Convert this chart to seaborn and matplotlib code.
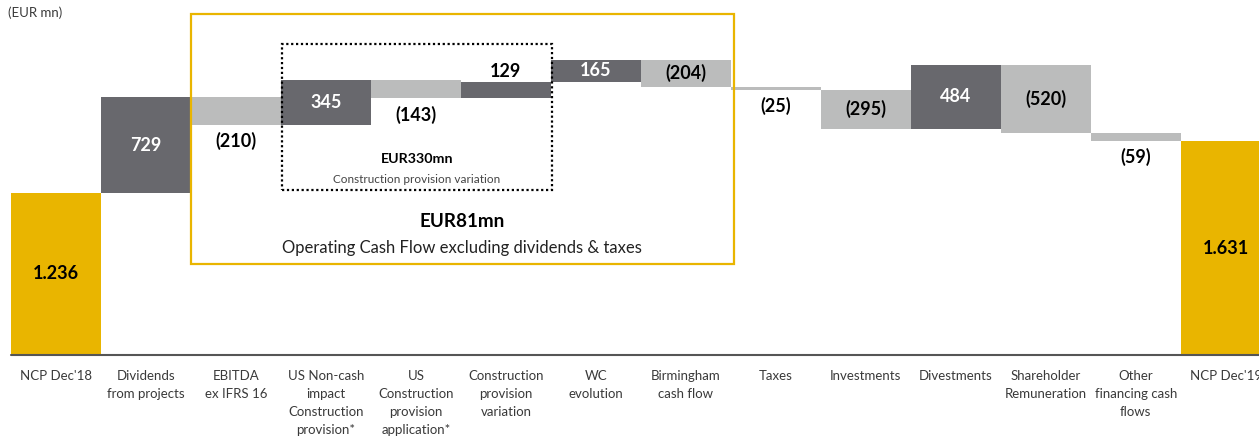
import pandas as pd
import matplotlib
matplotlib.use("Agg")
import matplotlib.pyplot as plt
import seaborn as sns
from matplotlib.patches import Rectangle

categories = [
    "NCP Dec'18", "Dividends\nfrom projects", "EBITDA\nex IFRS 16",
    "US Non-cash\nimpact\nConstruction\nprovision*",
    "US\nConstruction\nprovision\napplication*",
    "Construction\nprovision\nvariation", "WC\nevolution",
    "Birmingham\ncash flow", "Taxes", "Investments", "Divestments",
    "Shareholder\nRemuneration", "Other\nfinancing cash\nflows", "NCP Dec'19",
]
values = [1236, 729, -210, 345, -143, 129, 165, -204, -25, -295, 484, -520, -59, 1631]
value_labels = ["1.236", "729", "(210)", "345", "(143)", "129", "165", "(204)",
                "(25)", "(295)", "484", "(520)", "(59)", "1.631"]
label_pos = ["in", "in", "below", "in", "below", "above", "in", "in",
             "below", "in", "in", "in", "below", "in"]

GOLD = "#E9B500"
DARK = "#68686D"
LIGHT = "#BBBCBC"

# waterfall geometry
bottoms, tops, kinds = [], [], []
level = 0
for i, v in enumerate(values):
    if i == 0 or i == len(values) - 1:
        bottoms.append(0)
        tops.append(v)
        kinds.append("total")
        level = v
    else:
        new = level + v
        bottoms.append(min(level, new))
        tops.append(max(level, new))
        kinds.append("up" if v > 0 else "down")
        level = new

df = pd.DataFrame({"category": categories, "bottom": bottoms, "top": tops, "kind": kinds})

sns.set_style("white")
plt.rcParams["font.family"] = ["Lato", "DejaVu Sans"]

fig = plt.figure(figsize=(12.59, 4.36), dpi=100)
ax = fig.add_axes([11 / 1259, 81 / 436, 1248 / 1259, 355 / 436])

sns.barplot(data=df, x="category", y="top", hue="kind", order=categories,
            palette={"total": GOLD, "up": DARK, "down": LIGHT},
            dodge=False, width=1, saturation=1, linewidth=0,
            errorbar=None, legend=False, ax=ax)
sns.barplot(data=df, x="category", y="bottom", order=categories, color="white",
            width=1, saturation=1, linewidth=0, errorbar=None, ax=ax)

ax.set_xlim(-0.5, 13.37)
ax.set_ylim(0, 2708)
for s in ax.spines.values():
    s.set_visible(False)
ax.axhline(0, color="#555555", lw=1.5, clip_on=False, zorder=5)
ax.set_yticks([])
ax.set_xticks(range(len(categories)))
ax.set_xticklabels(categories, fontsize=9.5, color="#3a3a3a", linespacing=1.6)
ax.tick_params(axis="x", length=0, pad=11)
ax.set_xlabel("")
ax.set_ylabel("")

for i, row in df.iterrows():
    txt = value_labels[i]
    pos = label_pos[i]
    if pos == "in":
        color = "white" if row["kind"] == "up" else "black"
        ax.text(i, (row["bottom"] + row["top"]) / 2, txt, ha="center", va="center",
                fontsize=13, fontweight="bold", color=color)
    elif pos == "below":
        ax.annotate(txt, (i, row["bottom"]), xytext=(0, -5), textcoords="offset points",
                    ha="center", va="top", fontsize=13, fontweight="bold", color="black")
    else:
        ax.annotate(txt, (i, row["top"]), xytext=(0, 1), textcoords="offset points",
                    ha="center", va="bottom", fontsize=13, fontweight="bold", color="black")

# grouping boxes
ax.add_patch(Rectangle((1.5, 694), 6.03, 1907, fill=False, edgecolor=GOLD,
                       lw=1.6, clip_on=False, zorder=6))
ax.add_patch(Rectangle((2.51, 1258), 3.0, 1114, fill=False, edgecolor="black",
                       lw=1.6, ls=(0, (1, 1.2)), clip_on=False, zorder=6))

ax.text(4.01, 1495, "EUR330mn", ha="center", va="center", fontsize=10.3,
        fontweight="bold", color="black")
ax.text(4.01, 1335, "Construction provision variation", ha="center", va="center",
        fontsize=8.5, color="#444444")
ax.text(4.51, 1022, "EUR81mn", ha="center", va="center", fontsize=13.6,
        fontweight="bold", color="black")
ax.text(4.51, 820, "Operating Cash Flow excluding dividends & taxes", ha="center",
        va="center", fontsize=12, color="#222222")

fig.text(62 / 1259, 1 - 13 / 436, "(EUR mn)", ha="right", va="center",
         fontsize=9.5, color="#3a3a3a")

fig.savefig("out.png", dpi=100)
